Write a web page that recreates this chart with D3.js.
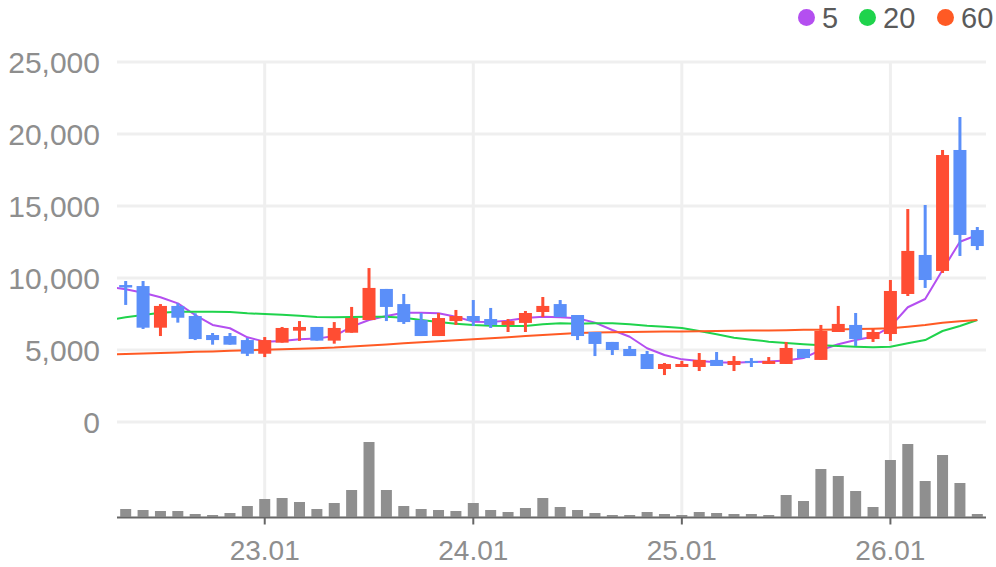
<!DOCTYPE html>
<html>
<head>
<meta charset="utf-8">
<script src="https://cdn.jsdelivr.net/npm/d3@7"></script>
<style>
  body { margin: 0; background: #fff; }
  svg { display: block; font-family: "Liberation Sans", Arial, sans-serif; }
</style>
</head>
<body>
<svg id="chart" width="996" height="567"></svg>
<script>
// monthly candles, yy.mm
const months = [
  "22.05","22.06","22.07","22.08","22.09","22.10","22.11","22.12",
  "23.01","23.02","23.03","23.04","23.05","23.06","23.07","23.08","23.09","23.10","23.11","23.12",
  "24.01","24.02","24.03","24.04","24.05","24.06","24.07","24.08","24.09","24.10","24.11","24.12",
  "25.01","25.02","25.03","25.04","25.05","25.06","25.07","25.08","25.09","25.10","25.11","25.12",
  "26.01","26.02","26.03","26.04","26.05","26.06"
];

const open  = [9510,9440,6550,8060,7360,6040,5970,5690,4740,5510,6340,6600,5650,6200,7080,9240,8190,7080,5970,7010,
               7360,7150,6740,6880,7640,8190,7430,6250,5560,5070,4720,3680,3820,3820,4310,3960,4240,4030,4030,5070,
               4310,6250,6740,5760,6110,8890,11600,10490,18890,13330];
const high  = [9790,9790,8190,8240,7550,6180,6180,5830,5900,6600,7010,6600,6940,7990,10690,9240,8890,7570,7570,7780,
               8470,7920,7150,7710,8680,8470,7430,6250,5560,5280,4930,4100,4240,4790,4860,4580,4440,4510,5560,5070,
               6740,8060,7570,6460,9860,14790,15070,18890,21180,13540];
const low   = [8130,6460,5970,6900,5690,5370,5370,4580,4510,5510,5630,5650,5440,6200,7080,7010,6810,5970,5970,6740,
               6670,6530,6250,6250,7290,7290,5690,4580,4650,4580,3680,3260,3820,3540,3890,3540,3820,4030,4030,4440,
               4310,6250,5280,5560,5630,8750,9310,10350,11530,11940];
const close = [9340,6550,8060,7240,5760,5690,5370,4740,5690,6530,6600,5650,6530,7220,9310,7990,6940,5970,7220,7360,
               7010,6740,7010,7570,8060,7290,5970,5420,5000,4580,3680,4030,4030,4310,3890,4240,4100,4240,5140,4440,
               6320,6810,5760,6250,9100,11880,9860,18540,12990,12220];
const volume = [7700,6700,5700,5700,2700,1700,3700,10700,17700,18700,14700,7700,13700,26700,74700,26700,10700,7700,6700,5700,
                13700,6700,4700,8700,18700,9700,6700,3700,1700,1700,4700,2700,1700,4700,3700,2700,2700,1700,21700,15700,
                47700,40700,25700,9700,56700,72700,35700,61700,33700,2700];

// moving averages; first entry belongs to the month before 22.05 (off the left edge)
const ma5  = [9400,9220,8980,8660,8240,7430,6740,6510,5880,5580,5630,5740,5790,5970,6620,7080,7360,7590,7590,7550,7310,
              6970,6940,7040,7220,7310,7270,7200,6900,6390,5920,5120,4650,4350,4240,4150,4120,4170,4200,4270,4440,
              5000,5400,5690,5920,6620,7970,8540,10560,12520,12990];
const ma20 = [7080,7270,7430,7590,7660,7660,7660,7640,7550,7500,7450,7380,7290,7270,7290,7310,7310,7240,7080,6940,6830,
              6740,6690,6670,6670,6790,6850,6830,6850,6850,6790,6690,6620,6530,6320,6090,5850,5720,5580,5490,5400,
              5330,5280,5230,5190,5230,5470,5690,6320,6670,7080];
const ma60 = [4690,4720,4760,4790,4830,4870,4900,4940,4990,5020,5060,5090,5130,5170,5240,5320,5390,5470,5540,5610,5680,
              5740,5820,5890,5970,6040,6110,6180,6220,6230,6250,6260,6280,6290,6310,6320,6330,6350,6360,6380,6400,
              6410,6430,6450,6470,6510,6620,6740,6900,6990,7080];

const priceTicks = [0, 5000, 10000, 15000, 20000, 25000];
const monthTicks = ["23.01", "24.01", "25.01", "26.01"];
const maSeries = [
  {name: "5",  values: ma5,  color: "#b44ff0"},
  {name: "20", values: ma20, color: "#1fd34c"},
  {name: "60", values: ma60, color: "#ff5a24"}
];

const upColor = "#ff4d33", downColor = "#5b8ff9";
const left = 117, right = 986;

const svg = d3.select("#chart");

const x = d3.scaleLinear()
    .domain([-0.5, months.length - 0.5])
    .range([left, right]);

const y = d3.scaleLinear().domain([0, 25000]).range([422, 62]);
const yVol = d3.scaleLinear().domain([0, d3.max(volume)]).range([516.7, 442]);

svg.append("defs").append("clipPath").attr("id", "plot")
  .append("rect").attr("x", left).attr("y", 0).attr("width", right - left).attr("height", 567);

// grid
const grid = svg.append("g");
grid.selectAll(".hg").data(priceTicks).join("line")
    .attr("x1", left).attr("x2", right)
    .attr("y1", d => y(d)).attr("y2", d => y(d))
    .attr("stroke", "#efefef").attr("stroke-width", 3);
grid.selectAll(".vg").data(monthTicks).join("line")
    .attr("x1", d => x(months.indexOf(d))).attr("x2", d => x(months.indexOf(d)))
    .attr("y1", y(25000)).attr("y2", 516)
    .attr("stroke", "#efefef").attr("stroke-width", 3);

// y labels
svg.append("g").selectAll("text").data(priceTicks).join("text")
    .attr("x", 100).attr("y", d => y(d))
    .attr("dy", "0.36em")
    .attr("text-anchor", "end")
    .attr("font-size", 30)
    .attr("fill", "#8e8e8e")
    .text(d => d3.format(",")(d));

// volume bars
svg.append("g").selectAll("rect").data(volume).join("rect")
    .attr("x", (d, i) => x(i) - 5.5)
    .attr("width", 11)
    .attr("y", d => yVol(d))
    .attr("height", d => yVol(0) - yVol(d))
    .attr("fill", "#8f8f8f");

// x axis
const xAxis = svg.append("g");
xAxis.append("line")
    .attr("x1", left).attr("x2", right)
    .attr("y1", 517.5).attr("y2", 517.5)
    .attr("stroke", "#666").attr("stroke-width", 2);
xAxis.selectAll(".tick").data(monthTicks).join("line")
    .attr("x1", d => x(months.indexOf(d))).attr("x2", d => x(months.indexOf(d)))
    .attr("y1", 517).attr("y2", 524.5)
    .attr("stroke", "#666").attr("stroke-width", 2);
xAxis.selectAll("text").data(monthTicks).join("text")
    .attr("x", d => x(months.indexOf(d)))
    .attr("y", 550)
    .attr("dy", "0.36em")
    .attr("text-anchor", "middle")
    .attr("font-size", 28)
    .attr("fill", "#8e8e8e")
    .text(d => d);

// moving average lines
const lineGen = d3.line()
    .x((d, i) => x(i - 1))
    .y(d => y(d));
svg.append("g").attr("clip-path", "url(#plot)")
  .selectAll("path").data(maSeries).join("path")
    .attr("d", d => lineGen(d.values))
    .attr("fill", "none")
    .attr("stroke", d => d.color)
    .attr("stroke-width", 2)
    .attr("stroke-linejoin", "round");

// candles
const idx = d3.range(months.length);
const candle = svg.append("g").selectAll("g").data(idx).join("g")
    .attr("fill", i => close[i] >= open[i] ? upColor : downColor);
candle.append("rect")
    .attr("x", i => x(i) - 1.5)
    .attr("width", 3)
    .attr("y", i => y(high[i]))
    .attr("height", i => y(low[i]) - y(high[i]));
candle.append("rect")
    .attr("x", i => x(i) - 6.5)
    .attr("width", 13)
    .attr("y", i => y(Math.max(open[i], close[i])))
    .attr("height", i => Math.max(2, Math.abs(y(open[i]) - y(close[i]))));

// legend
const legend = svg.append("g").attr("font-size", 29).attr("fill", "#5a5a5a");
const legendX = [806.5, 867.5, 945.5];
const item = legend.selectAll("g").data(maSeries).join("g")
    .attr("transform", (d, i) => `translate(${legendX[i]},17.5)`);
item.append("circle").attr("r", 8.5).attr("fill", d => d.color);
item.append("text").attr("x", 15.5).attr("dy", "0.36em").text(d => d.name);
</script>
</body>
</html>
